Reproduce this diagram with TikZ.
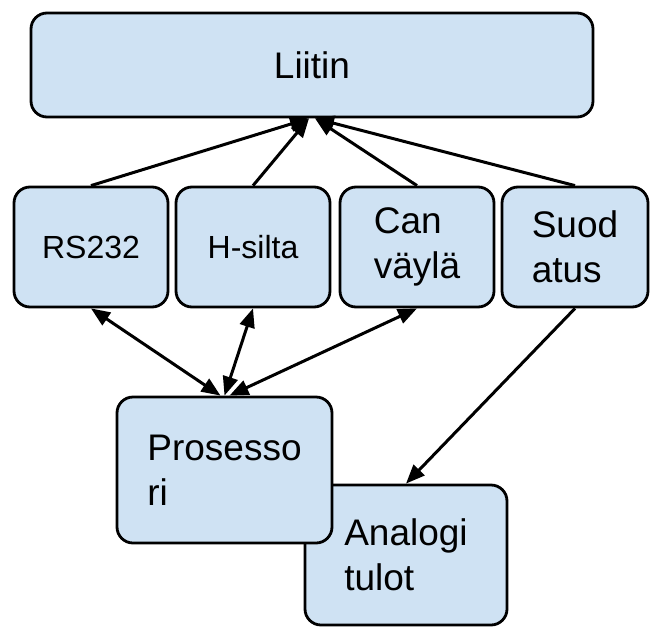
\documentclass[tikz,border=0pt]{standalone}
\usepackage{fontspec}
\setmainfont{Liberation Sans}
\usetikzlibrary{arrows.meta}
\definecolor{boxblue}{HTML}{CFE2F3}
\tikzset{
  block/.style={draw,line width=2.8pt,rounded corners=16pt,fill=boxblue,inner sep=0pt,align=left,font=\fontsize{37}{45}\selectfont},
  small/.style={font=\fontsize{32}{40}\selectfont},
  link/.style={line width=3pt,-{Triangle[length=19pt,width=15pt]}},
  twoway/.style={line width=3pt,{Triangle[length=19pt,width=15pt]}-{Triangle[length=19pt,width=15pt]}}
}
\begin{document}
\begin{tikzpicture}[x=1pt,y=-1pt]
  \useasboundingbox (0,0) rectangle (650,627);
  %top
  \node[block,minimum width=562pt,minimum height=104pt] (liitin) at (312,65) {Liitin};

  %row
  \node[block,small,minimum width=154pt,minimum height=120pt] (rs) at (91,247) {RS232};
  \node[block,small,minimum width=154pt,minimum height=120pt] (hsilta) at (253,247) {H-silta};
  \node[block,minimum width=154pt,minimum height=120pt] (can) at (417,247) {Can\\väylä};
  \node[block,minimum width=146pt,minimum height=120pt] (suod) at (575,247) {Suod\\atus};

  %bottom
  \node[block,minimum width=202pt,minimum height=140pt] (analog) at (406,555) {Analogi\\tulot};
  \node[block,minimum width=215pt,minimum height=146pt] (pros) at (224.5,470) {Prosesso\\ri};

  \draw[link] (rs.north) -- ([xshift=-3pt]liitin.south);
  \draw[link] (hsilta.north) -- ([xshift=-3pt]liitin.south);
  \draw[link] (can.north) -- ([xshift=3pt]liitin.south);
  \draw[link] (suod.north) -- ([xshift=3pt]liitin.south);

  \draw[twoway] (rs.south) -- ([xshift=-4pt]pros.north);
  \draw[twoway] (hsilta.south) -- (pros.north);
  \draw[twoway] (can.south) -- ([xshift=5pt]pros.north);
  \draw[link] (suod.south) -- (analog.north);
\end{tikzpicture}
\end{document}
